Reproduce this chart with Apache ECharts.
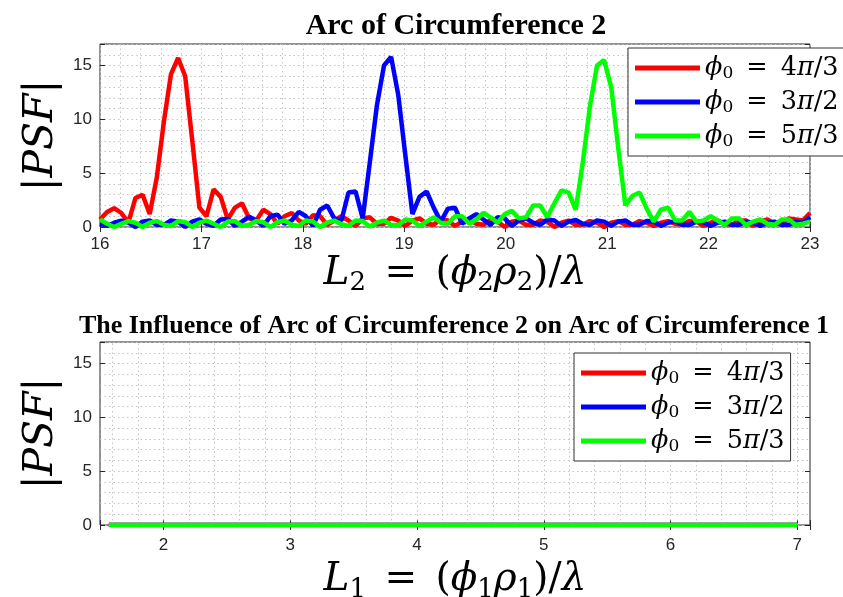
<!DOCTYPE html>
<html><head><meta charset="utf-8">
<script src="https://cdn.jsdelivr.net/npm/echarts@6/dist/echarts.min.js"></script>
<style>html,body{margin:0;padding:0;background:#fff}#c{width:843px;height:597px}</style>
</head><body><div id="c"></div>
<script>
// ---------- data ----------
const L2 = [16,16.07,16.14,16.21,16.28,16.35,16.42,16.49,16.56,16.63,
16.7,16.77,16.84,16.91,16.98,17.05,17.12,17.19,17.26,17.33,
17.4,17.47,17.54,17.61,17.68,17.75,17.82,17.89,17.96,18.03,
18.1,18.17,18.24,18.31,18.38,18.45,18.52,18.59,18.66,18.73,
18.8,18.87,18.94,19.01,19.08,19.15,19.22,19.29,19.36,19.43,
19.5,19.57,19.64,19.71,19.78,19.85,19.92,19.99,20.06,20.13,
20.2,20.27,20.34,20.41,20.48,20.55,20.62,20.69,20.76,20.83,
20.9,20.97,21.04,21.11,21.18,21.25,21.32,21.39,21.46,21.53,
21.6,21.67,21.74,21.81,21.88,21.95,22.02,22.09,22.16,22.23,
22.3,22.37,22.44,22.51,22.58,22.65,22.72,22.79,22.86,22.93,23];
const psfTopRed = [0.7,1.4,1.75,1.3,0.4,2.7,3.0,1.2,4.6,9.8,
14.2,15.7,14.0,8.0,1.8,1.0,3.5,2.8,0.7,1.8,
2.2,0.8,0.6,1.6,1.2,0.3,1.0,1.3,0.6,0.3,
1.1,1.0,0.2,0.6,1.0,0.6,0.1,0.8,0.9,0.3,
0.3,0.85,0.6,0.1,0.6,0.8,0.3,0.2,0.75,0.6,
0.1,0.5,0.7,0.3,0.2,0.65,0.5,0.0,0.5,0.6,
0.2,0.2,0.6,0.5,0.0,0.4,0.6,0.2,0.2,0.55,
0.4,0.0,0.4,0.55,0.2,0.2,0.55,0.4,0.1,0.4,
0.55,0.3,0.2,0.55,0.5,0.1,0.4,0.6,0.3,0.2,
0.6,0.6,0.1,0.5,0.7,0.3,0.3,0.8,0.7,0.6,1.3];
const psfTopBlue = [0.3,0.1,0.4,0.6,0.4,0.0,0.5,0.6,0.2,0.2,
0.6,0.5,0.0,0.5,0.7,0.3,0.1,0.7,0.75,0.1,
0.5,0.95,0.6,0.1,1.0,1.15,0.3,0.6,1.4,1.0,
0.1,1.6,2.0,0.8,0.6,3.2,3.3,0.8,6.0,11.3,
15.0,15.8,12.3,6.7,1.2,2.8,3.3,1.8,0.5,1.7,
1.8,0.3,0.8,1.2,0.7,0.2,0.9,0.8,0.1,0.6,
0.8,0.4,0.2,0.7,0.6,0.1,0.5,0.65,0.3,0.2,
0.6,0.5,0.1,0.5,0.6,0.2,0.2,0.55,0.5,0.1,
0.4,0.55,0.2,0.2,0.5,0.45,0.1,0.4,0.5,0.2,
0.2,0.5,0.4,0.1,0.4,0.5,0.2,0.2,0.5,0.4,0.9];
const psfTopGreen = [0.7,0.3,0.0,0.3,0.55,0.4,0.0,0.4,0.55,0.2,
0.1,0.55,0.45,0.0,0.4,0.6,0.3,0.0,0.5,0.55,
0.1,0.2,0.55,0.45,0.0,0.45,0.6,0.2,0.1,0.6,
0.5,0.0,0.4,0.6,0.25,0.1,0.6,0.55,0.05,0.4,
0.6,0.2,0.15,0.7,0.6,0.1,0.5,0.9,0.4,0.3,
1.0,1.0,0.3,0.7,1.3,0.9,0.4,1.2,1.5,0.8,
0.9,2.0,2.0,0.9,2.2,3.4,3.2,1.6,6.0,11.2,
15.0,15.5,13.0,7.3,2.0,2.9,3.2,1.7,0.5,1.6,
1.8,0.6,0.6,1.4,0.5,0.6,1.0,0.6,0.2,0.8,
0.8,0.2,0.5,0.7,0.3,0.2,0.7,0.7,0.2,0.3,0.5];
const L1 = [1.57,2.0,2.5,3.0,3.5,4.0,4.5,5.0,5.5,6.0,6.5,7.0];
const psfBottomRed   = [0,0,0,0,0,0,0,0,0,0,0,0];
const psfBottomBlue  = [0,0,0,0,0,0,0,0,0,0,0,0];
const psfBottomGreen = [0,0,0,0,0,0,0,0,0,0,0,0];
const seriesNames = ['ϕ0 = 4π/3', 'ϕ0 = 3π/2', 'ϕ0 = 5π/3'];
const seriesColors = ['#ff0000', '#0000ff', '#00ff00'];
const gridLinesBottomX = [1.6,1.8,2.0,2.2,2.4,2.6,2.8,3.0,3.2,3.4,3.6,3.8,4.0,4.2,4.4,4.6,4.8,5.0,5.2,5.4,5.6,5.8,6.0,6.2,6.4,6.6,6.8,7.0];
const titles = ['Arc of Circumference 2', 'The Influence of Arc of Circumference 2 on Arc of Circumference 1'];

// ---------- styles ----------
const AX = '#262626';
const GRIDC = '#c4c4c4';
const dotted = {color: GRIDC, width: 1, type: [1.5, 3]};
const tickFont = {color: AX, fontSize: 17, fontFamily: 'Liberation Sans'};
const mathFont = 'DejaVu Serif';

function zip(xs, ys) { return xs.map((x, i) => [x, ys[i]]); }

const axisNameRichX = {
  i: {fontFamily: mathFont, fontStyle: 'italic', fontSize: 39, lineHeight: 46, color: '#000'},
  t: {fontFamily: mathFont, fontSize: 39, lineHeight: 46, color: '#000'},
  e: {fontFamily: mathFont, fontSize: 39, lineHeight: 46, color: '#000', padding: [0, 6]},
  s: {fontFamily: mathFont, fontSize: 26, lineHeight: 28, verticalAlign: 'bottom', color: '#000'}
};
const axisNameRichY = {
  i: {fontFamily: mathFont, fontStyle: 'italic', fontSize: 41, color: '#000'},
  b: {fontFamily: mathFont, fontSize: 41, color: '#000'}
};
const legendRich = {
  i: {fontFamily: mathFont, fontStyle: 'italic', fontSize: 25.5, lineHeight: 28, color: '#000'},
  t: {fontFamily: mathFont, fontSize: 25.5, lineHeight: 28, color: '#000'},
  e: {fontFamily: mathFont, fontSize: 25.5, lineHeight: 28, color: '#000', padding: [0, 5]},
  s: {fontFamily: mathFont, fontSize: 17, lineHeight: 16, verticalAlign: 'bottom', color: '#000'}
};
function legendFmt(name) {
  const rest = name.replace('ϕ0 = ', '');
  const m = rest.match(/^(\d)π(\/\d)$/);
  return '{i|ϕ}{s|0}{e| = }{t|' + m[1] + '}{i|π}{t|' + m[2] + '}';
}

function mkLegend(left, top, padRight) {
  return {
    left: left, top: top, orient: 'vertical', data: seriesNames, selectedMode: false,
    icon: 'rect', itemWidth: 65, itemHeight: 5, itemGap: 6,
    padding: [6, padRight, 6, 7], borderColor: '#333', borderWidth: 1, backgroundColor: '#fff',
    formatter: legendFmt, textStyle: {rich: legendRich, lineHeight: 28}, z: 10
  };
}

const grids = [
  {left: 100, top: 44, width: 710, height: 183, show: true, borderColor: AX, borderWidth: 1,
   backgroundColor: 'transparent', containLabel: false, outerBoundsMode: 'none'},
  {left: 100, top: 342, width: 710, height: 183, show: true, borderColor: AX, borderWidth: 1,
   backgroundColor: 'transparent', containLabel: false, outerBoundsMode: 'none'}
];

function mainX(grid, min, max, extra, name, margin, gap) {
  return Object.assign({
    type: 'value', gridIndex: grid, position: 'bottom', min: min, max: max,
    axisLine: {show: false}, axisTick: {show: true, inside: true, length: 5, lineStyle: {color: AX}},
    axisLabel: Object.assign({margin: margin, formatter: v => (Math.abs(v - Math.round(v)) < 1e-6 ? String(Math.round(v)) : '')}, tickFont),
    splitLine: {show: false},
    name: name, nameLocation: 'middle', nameGap: gap, nameTextStyle: {rich: axisNameRichX}
  }, extra);
}
function mirrorX(grid, min, max, extra) {
  return Object.assign({
    type: 'value', gridIndex: grid, position: 'top', min: min, max: max,
    axisLine: {show: false}, axisTick: {show: true, inside: true, length: 5, lineStyle: {color: AX}},
    axisLabel: {show: false}, splitLine: {show: false}
  }, extra);
}
function helperX(grid, min, max, interval) {
  return {type: 'value', gridIndex: grid, position: 'bottom', min: min, max: max, interval: interval,
    axisLine: {show: false}, axisTick: {show: false}, axisLabel: {show: false},
    splitLine: {show: true, lineStyle: dotted}};
}
function mainY(grid) {
  return {type: 'value', gridIndex: grid, position: 'left', min: 0, max: 17, interval: 5,
    axisLine: {show: false}, axisTick: {show: true, inside: true, length: 5, lineStyle: {color: AX}},
    axisLabel: Object.assign({margin: 8, formatter: v => (v % 5 === 0 ? String(v) : '')}, tickFont),
    splitLine: {show: false},
    name: '{b||}{i|PSF}{b||}', nameLocation: 'middle', nameRotate: 90, nameGap: 34,
    nameTextStyle: {rich: axisNameRichY}};
}
function mirrorY(grid) {
  return {type: 'value', gridIndex: grid, position: 'right', min: 0, max: 17, interval: 5,
    axisLine: {show: false}, axisTick: {show: true, inside: true, length: 5, lineStyle: {color: AX}},
    axisLabel: {show: false}, splitLine: {show: false}};
}
function helperY(grid) {
  return {type: 'value', gridIndex: grid, position: 'left', min: 0, max: 17, interval: 1,
    axisLine: {show: false}, axisTick: {show: false}, axisLabel: {show: false},
    splitLine: {show: true, lineStyle: dotted}};
}

const xName2 = '{i|L}{s|2}{e| = }{t|(}{i|ϕ}{s|2}{i|ρ}{s|2}{t|)/}{i|λ}';
const xName1 = '{i|L}{s|1}{e| = }{t|(}{i|ϕ}{s|1}{i|ρ}{s|1}{t|)/}{i|λ}';

const xAxes = [
  mainX(0, 16, 23, {interval: 1}, xName2, 9, 19),       // 0
  mirrorX(0, 16, 23, {interval: 1}),                    // 1
  helperX(0, 16, 23, 0.2),                              // 2
  mainX(1, 1.5, 7.1, {minInterval: 1, maxInterval: 1}, xName1, 12, 32), // 3
  mirrorX(1, 1.5, 7.1, {minInterval: 1, maxInterval: 1})               // 4
];
const yAxes = [mainY(0), mirrorY(0), helperY(0), mainY(1), mirrorY(1), helperY(1)];

const topData = [psfTopRed, psfTopBlue, psfTopGreen];
const bottomData = [psfBottomRed, psfBottomBlue, psfBottomGreen];
const series = [];
series.push({
  type: 'line', xAxisIndex: 3, yAxisIndex: 3, data: [], silent: true, z: 1,
  markLine: {silent: true, symbol: 'none', animation: false, label: {show: false},
    lineStyle: dotted, data: gridLinesBottomX.map(v => ({xAxis: v}))}
});
for (let k = 0; k < 3; k++) {
  series.push({name: seriesNames[k], type: 'line', xAxisIndex: 0, yAxisIndex: 0,
    data: zip(L2, topData[k]), showSymbol: false, symbol: 'none', z: 3 + k,
    lineStyle: {width: 4.5, color: seriesColors[k]}, itemStyle: {color: seriesColors[k]}});
}
for (let k = 0; k < 3; k++) {
  series.push({name: seriesNames[k], type: 'line', xAxisIndex: 3, yAxisIndex: 3,
    data: zip(L1, bottomData[k]), showSymbol: false, symbol: 'none', z: 3 + k,
    lineStyle: {width: 4.5, color: seriesColors[k]}, itemStyle: {color: seriesColors[k]}});
}

const chart = echarts.init(document.getElementById('c'), null, {renderer: 'canvas'});
chart.setOption({
  animation: false,
  backgroundColor: '#fff',
  title: [
    {text: titles[0], left: 451, top: 6, textAlign: 'center',
     textStyle: {fontFamily: 'Liberation Serif', fontWeight: 'bold', fontSize: 30, color: '#000'}},
    {text: titles[1], left: 449, top: 308, textAlign: 'center',
     textStyle: {fontFamily: 'Liberation Serif', fontWeight: 'bold', fontSize: 26, color: '#000'}}
  ],
  legend: [mkLegend(628, 48, 20), mkLegend(574, 353, 6)],
  grid: grids,
  xAxis: xAxes,
  yAxis: yAxes,
  series: series
});
</script>
</body></html>
